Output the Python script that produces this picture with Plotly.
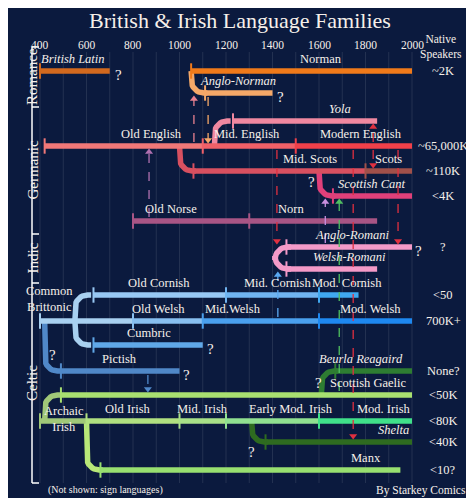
import plotly.graph_objects as go
import numpy as np

# ---------------- data ----------------
lanes = {"latin": 71, "anorm": 93, "yola": 121, "eng": 146, "scots": 171, "cant": 196,
         "norse": 221, "arom": 247, "rom_mid": 258, "wrom": 269, "corn": 295, "welsh": 321,
         "cumb": 345, "pict": 371, "beurla": 371, "gael": 395, "irish": 421, "shelta": 442, "manx": 470}

seg_name  = ["British Latin", "Norman", "Anglo-Norman", "Yola", "Old English", "Mid. English", "Modern English",
             "Mid. Scots", "Scots", "Scottish Cant", "Old Norse", "Norn", "Anglo-Romani", "Welsh-Romani",
             "Common\nBrittonic", "Old Welsh", "Mid.Welsh", "Mod. Welsh", "Old Cornish", "Mid. Cornish", "Mod. Cornish",
             "Cumbric", "Pictish", "Archaic\nIrish", "Old Irish", "Mid. Irish", "Early Mod. Irish", "Mod. Irish",
             "Scottish Gaelic", "Beurla Reagaird", "Shelta", "Manx"]
seg_start = [400, 1050, 1110, 1230, 420, 1100, 1500, 1060, 1800, 1660, 800, 1300, 1460, 1460,
             400, 800, 1100, 1600, 630, 1200, 1600, 630, 490, 400, 600, 1000, 1200, 1600,
             490, 1670, 1370, 660]
seg_end   = [700, 2000, 1400, 1850, 1100, 1500, 2000, 1800, 2000, 2000, 1300, 1850, 2000, 1850,
             800, 1100, 1600, 2000, 1200, 1600, 1770, 1100, 1000, 600, 1000, 1200, 1600, 2000,
             2000, 2000, 2000, 1950]
seg_lane  = ["latin", "latin", "anorm", "yola", "eng", "eng", "eng", "scots", "scots", "cant", "norse", "norse",
             "arom", "wrom", "welsh", "welsh", "welsh", "welsh", "corn", "corn", "corn", "cumb", "pict",
             "irish", "irish", "irish", "irish", "irish", "gael", "beurla", "shelta", "manx"]
seg_color = ["#d2691e", "#f07a1a", "#f5a868", "#f088a0", "#f07878", "#f06068", "#f0404a",
             "#d85060", "#a0504a", "#e0407a", "#a85585", "#a85585", "#f49ac8", "#f49ac8",
             "#a8d0f0", "#88bff0", "#4aa0ee", "#1e88f0", "#98c8f4", "#70b4f0", "#40a8f0",
             "#60a8e8", "#5088c8", "#a0c878", "#b0e080", "#a8e088", "#90e090", "#40e08a",
             "#a8e070", "#2e7d32", "#2e6b20", "#98e070"]
seg_italic = [1, 0, 1, 1, 0, 0, 0, 0, 0, 1, 0, 0, 1, 1, 0, 0, 0, 0, 0, 0, 0, 0, 0, 0, 0, 0, 0, 0, 0, 1, 1, 0]

# branches: year, from lane, to lane, color
br_year = [1050, 1150, 1000, 1600, 1410, 1410, 550, 550, 420, 420, 1610, 1310, 600]
br_from = ["latin", "eng", "eng", "scots", "rom_mid", "rom_mid", "welsh", "welsh", "welsh", "irish", "gael", "irish", "irish"]
br_to   = ["anorm", "yola", "scots", "cant", "arom", "wrom", "corn", "cumb", "pict", "gael", "beurla", "shelta", "manx"]
br_color = ["#f5a868", "#f088a0", "#d85060", "#e0407a", "#f49ac8", "#f49ac8", "#a8d0f0", "#a8d0f0",
            "#5088c8", "#a0c878", "#2e7d32", "#2e6b20", "#b8e878"]

# influence arrows: year, from lane, to lane, color
ar_year = [1062, 1123, 869, 1419, 1833, 1833, 1747, 1940, 1627, 1687, 1423, 864]
ar_from = ["eng", "anorm", "norse", "eng", "eng", "eng", "eng", "eng", "arom", "gael", "welsh", "pict"]
ar_to   = ["anorm", "eng", "eng", "arom", "yola", "scots", "shelta", "arom", "cant", "cant", "wrom", "gael"]
ar_color = ["#e88090", "#f5a868", "#b070b0", "#e03040", "#e03040", "#e03040", "#e03040", "#e03040",
            "#c890e0", "#50c060", "#5aa8f0", "#5088c8"]

ticks = [400, 600, 800, 1000, 1200, 1400, 1600, 1800, 2000]
speakers = {"latin": "~2K", "eng": "~65,000K", "scots": "~110K", "cant": "<4K", "arom": "?",
            "corn": "<50", "welsh": "700K+", "pict": "None?", "gael": "<50K", "irish": "<80K",
            "shelta": "<40K", "manx": "<10?"}
qmarks = [(712, "latin", 4), (1410, "anorm", 4), (1545, "cant", -14), (2005, "arom", 4), (1108, "cumb", 4),
          (1008, "pict", 4), (432, "pict", -16), (1575, "beurla", 12), (1285, "shelta", 10)]

# ---------------- figure ----------------
BG = "#0b1a3e"
FONT = "Liberation Serif"
TXT = "#f6f0ea"
OFF = 8          # page body margin
W, H = 474, 498
PX = 0.2325      # px per year
x0 = 400 - 40 / PX
RX, RY = 55, 13  # corner radii (years, px)


def px(s):
    return (s - OFF) / (W - OFF)


fig = go.Figure()
shapes, ann = [], []

for t in range(400, 2001, 100):
    shapes.append(dict(type="line", x0=t, x1=t, y0=52, y1=483, xref="x", yref="y",
                       line=dict(color="rgba(255,255,255,0.10)", width=1), layer="below"))

# branches with rounded corners
for yr, fr, to, c in zip(br_year, br_from, br_to, br_color):
    ya, yb = lanes[fr], lanes[to]
    s = 1 if yb > ya else -1
    t = np.linspace(0, 1, 12)
    cx = yr + RX * (1 - np.cos(t * np.pi / 2))
    cy = (yb - s * RY) + s * RY * np.sin(t * np.pi / 2)
    xs = [yr] + list(cx) + [yr + RX + 15]
    ys = [ya] + list(cy) + [yb]
    fig.add_trace(go.Scatter(x=xs, y=ys, mode="lines", line=dict(color=c, width=5.5), hoverinfo="skip"))

# segments
for n, a, b, ln, c in zip(seg_name, seg_start, seg_end, seg_lane, seg_color):
    y = lanes[ln]
    fig.add_trace(go.Scatter(x=[a, b], y=[y, y], mode="lines", line=dict(color=c, width=5.5), hoverinfo="skip"))
    fig.add_trace(go.Scatter(x=[a], y=[y], mode="markers", hoverinfo="skip",
                             marker=dict(symbol="line-ns", size=11, line=dict(color=c, width=2))))

# labels
label_pos = {"British Latin": (540, 0), "Norman": (1610, 0), "Anglo-Norman": (1250, 0), "Yola": (1690, 0),
             "Old English": (880, 0), "Mid. English": (1290, 0), "Modern English": (1780, 0),
             "Mid. Scots": (1560, 0), "Scots": (1900, 0), "Scottish Cant": (1830, 0),
             "Old Norse": (965, 0), "Norn": (1480, 0), "Anglo-Romani": (1740, 0), "Welsh-Romani": (1730, 0),
             "Common\nBrittonic": (440, -2), "Old Welsh": (910, 0), "Mid.Welsh": (1230, 0), "Mod. Welsh": (1820, 0),
             "Old Cornish": (910, 0), "Mid. Cornish": (1420, 0), "Mod. Cornish": (1720, 0),
             "Cumbric": (870, 0), "Pictish": (740, 0), "Archaic\nIrish": (505, 18),
             "Old Irish": (780, 0), "Mid. Irish": (1100, 0), "Early Mod. Irish": (1480, 0), "Mod. Irish": (1880, 0),
             "Scottish Gaelic": (1810, 0), "Beurla Reagaird": (1780, 0), "Shelta": (1920, 0), "Manx": (1800, 0)}
for n, ln, it in zip(seg_name, seg_lane, seg_italic):
    lx, dy = label_pos[n]
    txt = n.replace("\n", "<br>")
    if it:
        txt = "<i>" + txt + "</i>"
    ann.append(dict(x=lx, y=lanes[ln] - 3 + dy, text=txt, showarrow=False, yanchor="bottom",
                    font=dict(family=FONT, size=12.5, color=TXT), xref="x", yref="y"))

for q in qmarks:
    ann.append(dict(x=q[0], y=lanes[q[1]] + q[2], text="?", showarrow=False, xanchor="left",
                    font=dict(family=FONT, size=15, color=TXT), xref="x", yref="y"))

# arrows
for yr, fr, to, c in zip(ar_year, ar_from, ar_to, ar_color):
    ya, yb = lanes[fr], lanes[to]
    s = 1 if yb > ya else -1
    fig.add_trace(go.Scatter(x=[yr, yr], y=[ya + s * 4, yb - s * 4], mode="lines", hoverinfo="skip",
                             line=dict(color=c, width=1.3, dash="dash")))
    fig.add_trace(go.Scatter(x=[yr], y=[yb - s * 6], mode="markers", hoverinfo="skip",
                             marker=dict(symbol="triangle-down" if s > 0 else "triangle-up", size=7, color=c)))

# ticks
for t in ticks:
    ann.append(dict(x=t, y=45, text=str(t), showarrow=False, font=dict(family=FONT, size=11.5, color=TXT),
                    xref="x", yref="y"))

for k, v in speakers.items():
    ann.append(dict(x=px(443), y=lanes[k], text=v, showarrow=False, xref="paper", yref="y", xanchor="center",
                    font=dict(family=FONT, size=12.5, color=TXT)))
ann.append(dict(x=px(464), y=47, text="Native<br>Speakers", showarrow=False, xref="paper", yref="y",
                xanchor="right", font=dict(family=FONT, size=11.5, color=TXT)))

# section bracket
for a, b, name in [(47, 107, "Romance"), (107, 234, "Germanic"), (234, 283, "Indic"), (283, 483, "Celtic")]:
    ann.append(dict(x=px(22), y=(a + b) / 2, text=name, textangle=-90, showarrow=False, xref="paper", yref="y",
                    font=dict(family=FONT, size=15, color=TXT)))
shapes.append(dict(type="line", xref="paper", yref="y", x0=px(32), x1=px(32), y0=47, y1=483,
                   line=dict(color="white", width=1.5)))
for yy in [47, 107, 234, 283, 483]:
    shapes.append(dict(type="line", xref="paper", yref="y", x0=px(32), x1=px(39), y0=yy, y1=yy,
                       line=dict(color="white", width=1.5)))

ann.append(dict(x=px(240), y=20, xref="paper", yref="y", text="British & Irish Language Families", showarrow=False,
                font=dict(family=FONT, size=22, color=TXT)))
ann.append(dict(x=px(46), y=490, xref="paper", yref="y", text="(Not shown: sign languages)", showarrow=False,
                xanchor="left", font=dict(family=FONT, size=10, color=TXT)))
ann.append(dict(x=px(468), y=490, xref="paper", yref="y", text="By Starkey Comics", showarrow=False,
                xanchor="right", font=dict(family=FONT, size=11.5, color=TXT)))

fig.update_layout(width=W - OFF, height=H - OFF, margin=dict(l=0, r=0, t=0, b=0), paper_bgcolor=BG, plot_bgcolor=BG,
                  showlegend=False, shapes=shapes, annotations=ann,
                  xaxis=dict(range=[x0 + OFF / PX, x0 + W / PX], visible=False, fixedrange=True),
                  yaxis=dict(range=[H, OFF], visible=False, fixedrange=True))
fig.write_html("out.html")
